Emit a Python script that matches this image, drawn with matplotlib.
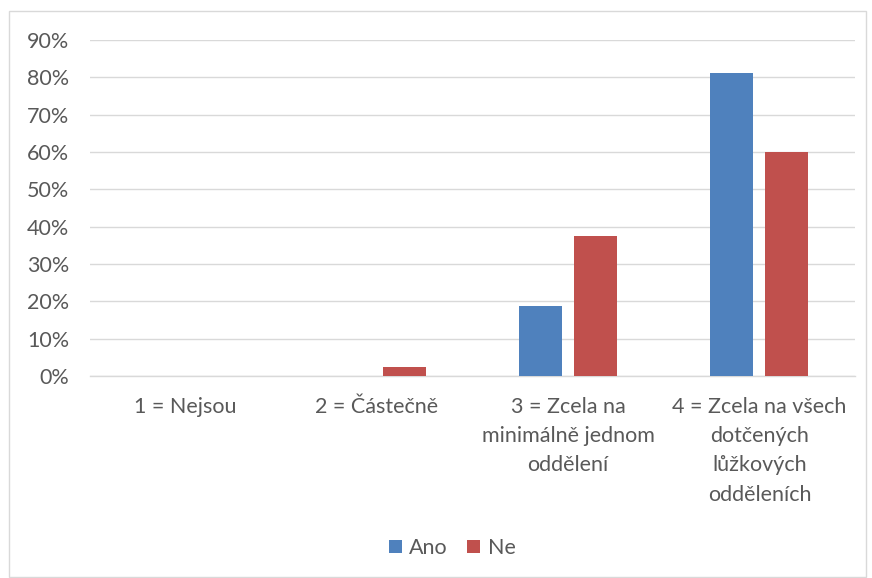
import matplotlib
matplotlib.use("Agg")
import matplotlib.pyplot as plt
from matplotlib.patches import Rectangle
from matplotlib.ticker import PercentFormatter, MultipleLocator
from matplotlib import font_manager
import numpy as np

categories = [
    "1 = Nejsou",
    "2 = Částečně",
    "3 = Zcela na\nminimálně jednom\noddělení",
    "4 = Zcela na všech\ndotčených\nlůžkových\nodděleních",
]
series_names = ["Ano", "Ne"]
ano = [0.0, 0.0, 18.75, 81.25]
ne = [0.0, 2.5, 37.5, 60.0]

installed = {f.name for f in font_manager.fontManager.ttflist}
family = next((f for f in ["Lato", "DejaVu Sans"] if f in installed), "DejaVu Sans")
plt.rcParams["font.family"] = [family, "DejaVu Sans"]

text_color = "#595959"
grid_color = "#D9D9D9"
colors = ["#4F81BD", "#C0504D"]
fs = 15.5

fig = plt.figure(figsize=(8.72, 5.78), dpi=100)
fig.patch.set_facecolor("white")

# outer chart frame
fig.add_artist(Rectangle((9 / 872, 1 / 578), 857 / 872, 566 / 578,
                         transform=fig.transFigure, fill=False,
                         edgecolor=grid_color, linewidth=1.0))

ax = fig.add_axes([90 / 872, 1 - 376 / 578, 765 / 872, 336 / 578])

x = np.arange(len(categories))
width = 0.225
gap = 0.063
offset = (width + gap) / 2
ax.bar(x - offset, ano, width, color=colors[0], label=series_names[0], zorder=3)
ax.bar(x + offset, ne, width, color=colors[1], label=series_names[1], zorder=3)

ax.set_xlim(-0.5, len(categories) - 0.5)
ax.set_ylim(0, 90)
ax.yaxis.set_major_locator(MultipleLocator(10))
ax.yaxis.set_major_formatter(PercentFormatter(decimals=0))
ax.grid(axis="y", color=grid_color, linewidth=1.0, zorder=0)
ax.set_axisbelow(True)

for side in ["top", "right", "left"]:
    ax.spines[side].set_visible(False)
ax.spines["bottom"].set_color(grid_color)
ax.spines["bottom"].set_linewidth(1.0)

ax.set_xticks(x)
ax.set_xticklabels(categories, linespacing=1.58)
ax.tick_params(axis="both", length=0, labelsize=fs, colors=text_color)
ax.tick_params(axis="x", pad=15)
ax.tick_params(axis="y", pad=15)

leg = fig.legend(loc="center", bbox_to_anchor=(452 / 872, 1 - 548 / 578),
                 ncol=2, frameon=False, fontsize=fs, handlelength=0.6,
                 handleheight=0.6, handletextpad=0.35, columnspacing=0.9)
for t in leg.get_texts():
    t.set_color(text_color)

fig.savefig("out.png", dpi=100, facecolor="white")
